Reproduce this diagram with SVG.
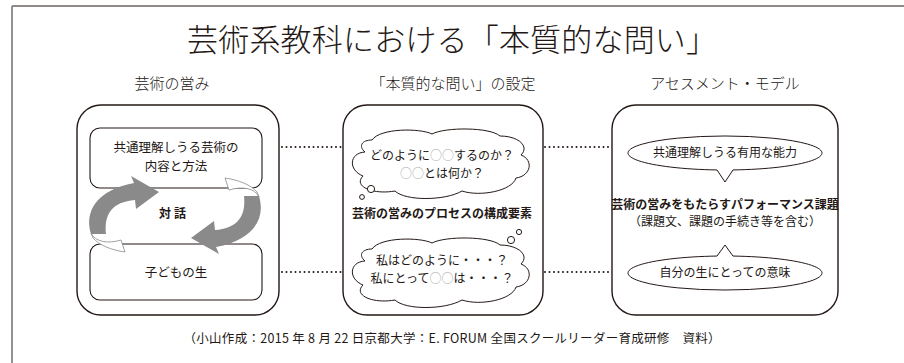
<svg xmlns="http://www.w3.org/2000/svg" xmlns:xlink="http://www.w3.org/1999/xlink" width="904" height="363" viewBox="0 0 904 363">
<style>
text{font-family:"Noto Sans CJK JP","Noto Sans",sans-serif;fill:#231815;text-anchor:middle}
.t{font-size:31px;font-weight:300}
.h{font-size:15px;font-weight:300}
.s{font-size:12.5px}
.c{font-size:12px}
.b{font-size:12px;font-weight:bold}
.g{fill:#aaa}
.box{fill:#fff;stroke:#231815;stroke-width:1.4}
.inner{fill:#fff;stroke:#231815;stroke-width:1.1}
.cloud{fill:#fff;stroke:#231815;stroke-width:1}
.dot{stroke:#231815;stroke-width:2;stroke-dasharray:0 4.5;stroke-linecap:round;fill:none}
.arr{fill:#8a8a8a}
.tail{fill:#fff;stroke:#8a8a8a;stroke-width:0.8}
</style>
<defs>
<g id="arrowL">
<path class="tail" d="M91,233 C95,242 108,244 121,240 L125,252 C111,250 99,245 93,238 Z"/>
<path class="arr" d="M91,234 C84,211 97,190 134,183 L131,176 L159,192 L136,209 L135,200 C112,202 104,214 106,234 Z"/>
</g>
<path id="cloudShape" d="M372,140 C380,128 420,128 432,134 C445,127 490,127 500,136 C518,136 530,146 521,155 C534,160 531,176 516,178 C512,191 480,197 462,191 C445,201 405,201 395,191 C372,195 353,186 363,176 C348,170 349,153 365,152 C358,146 362,140 372,140 Z"/>
</defs>
<g id="frame">
<line x1="12" y1="6" x2="904" y2="6" stroke="#231815" stroke-width="1.2"/>
<line x1="12" y1="6" x2="12" y2="363" stroke="#777" stroke-width="1.6"/>
</g>
<g id="title">
<text class="t" x="452" y="51" textLength="530">芸術系教科における「本質的な問い」</text>
</g>
<g id="headers">
<text class="h" x="172" y="89">芸術の営み</text>
<text class="h" x="453" y="89">「本質的な問い」の設定</text>
<text class="h" x="725" y="89">アセスメント・モデル</text>
</g>
<g id="connectors">
<line class="dot" x1="282" y1="147" x2="342" y2="147"/>
<line class="dot" x1="282" y1="272" x2="342" y2="272"/>
<line class="dot" x1="545" y1="147" x2="611" y2="147"/>
<line class="dot" x1="545" y1="272" x2="611" y2="272"/>
</g>
<g id="node-left">
<rect class="box" x="77" y="105" width="202" height="210" rx="24"/>
<rect class="inner" x="90" y="128" width="172" height="60" rx="10"/>
<text class="s" x="176" y="152">共通理解しうる芸術の</text>
<text class="s" x="176" y="171">内容と方法</text>
<rect class="inner" x="90" y="244" width="172" height="56" rx="10"/>
<text class="s" x="176" y="277">子どもの生</text>
<use xlink:href="#arrowL"/>
<use xlink:href="#arrowL" transform="rotate(180 175 215)"/>
<text class="b" x="174" y="218" letter-spacing="3">対話</text>
</g>
<g id="node-middle">
<rect class="box" x="343" y="105" width="200" height="210" rx="24"/>
<use xlink:href="#cloudShape" class="cloud"/>
<text class="c" x="442" y="160">どのように<tspan class="g">○○</tspan>するのか？</text>
<text class="c" x="442" y="178"><tspan class="g">○○</tspan>とは何か？</text>
<circle class="cloud" cx="371" cy="189" r="3.6"/>
<circle class="cloud" cx="362" cy="197" r="2.4"/>
<text class="b" x="442" y="218">芸術の営みのプロセスの構成要素</text>
<use xlink:href="#cloudShape" class="cloud" transform="translate(0,109)"/>
<circle class="cloud" cx="511" cy="240" r="3.6"/>
<circle class="cloud" cx="519" cy="232" r="2.6"/>
<text class="c" x="442" y="265">私はどのように・・・？</text>
<text class="c" x="442" y="283">私にとって<tspan class="g">○○</tspan>は・・・？</text>
</g>
<g id="node-right">
<rect class="box" x="612" y="105" width="226" height="210" rx="24"/>
<path class="cloud" d="M733,169.94 L725,182 L717,169.94 A97 17 0 1 1 733,169.94 Z"/>
<text class="c" x="725" y="157">共通理解しうる有用な能力</text>
<text class="b" x="725" y="209">芸術の営みをもたらすパフォーマンス課題</text>
<text class="c" x="725" y="226" font-size="11">（課題文、課題の手続き等を含む）</text>
<path class="cloud" d="M717,256.06 L725,245 L733,256.06 A97 17 0 1 1 717,256.06 Z"/>
<text class="c" x="725" y="277">自分の生にとっての意味</text>
</g>
<g id="footer">
<text class="s" x="452" y="343" textLength="537">（小山作成：2015 年 8 月 22 日京都大学：E. FORUM 全国スクールリーダー育成研修　資料）</text>
</g>
</svg>
